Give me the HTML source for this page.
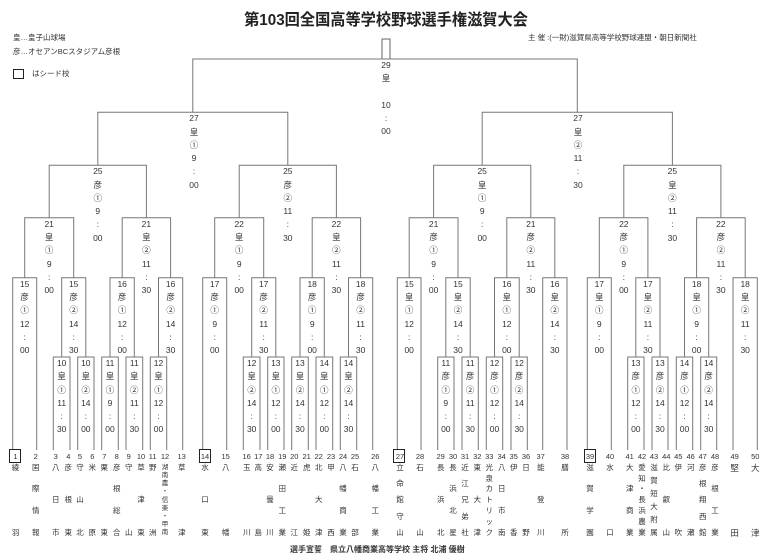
<!DOCTYPE html>
<html><head><meta charset="utf-8">
<style>
html,body{margin:0;padding:0;background:#fff}
body{width:768px;height:557px;position:relative;overflow:hidden;font-family:"Liberation Sans","Noto Sans CJK JP",sans-serif;color:#333}
svg{position:absolute;left:0;top:0}
.l{position:absolute;width:20px;margin-left:-10px;text-align:center;font-size:8.5px;line-height:13.3px;white-space:nowrap}
.n{position:absolute;top:452px;width:16px;margin-left:-8px;text-align:center;font-size:7.5px;line-height:9px}
.t{position:absolute;top:463.7px;height:73.3px;width:12px;margin-left:-6px;display:flex;flex-direction:column;justify-content:space-between;align-items:center;font-size:7.5px;line-height:8px}
.sb{position:absolute;top:449px;width:10px;height:12px;border:1.6px solid #222}
.s{position:absolute;font-size:7.5px;white-space:nowrap;line-height:10px}
</style></head><body>
<div style="position:absolute;left:0;width:772px;top:11px;text-align:center;font-size:16px;font-weight:bold;line-height:20px;transform:scaleX(0.95);color:#222">第103回全国高等学校野球選手権滋賀大会</div>
<div class="s" style="left:13px;top:33px">皇…皇子山球場</div>
<div class="s" style="left:13px;top:47px">彦…オセアンBCスタジアム彦根</div>
<div style="position:absolute;left:13px;top:69px;width:9px;height:8px;border:1.6px solid #222"></div>
<div class="s" style="left:32px;top:69px">はシード校</div>
<div class="s" style="left:528px;top:33px">主 催 :(一財)滋賀県高等学校野球連盟・朝日新聞社</div>
<div class="s" style="left:290px;top:545px;font-size:8px;font-weight:bold">選手宣誓　県立八幡商業高等学校 主将 北浦 優樹</div>

<svg width="768" height="557" viewBox="0 0 768 557">
<rect x="382" y="39" width="8" height="20" fill="none" stroke="#666" stroke-width="1"/>
<path fill="none" stroke="#777" stroke-width="1" d="
M53.3 450V357H70V450 M77.7 450V357H94V450 M101.7 450V357H118.3V450 M126 450V357H142.7V450 M150.3 450V357H166.7V450
M243.3 450V357H260V450 M267.7 450V357H284V450 M291.7 450V357H308.3V450 M316 450V357H332.7V450 M340.3 450V357H356.7V450
M437.7 450V357H454V450 M462 450V357H478.3V450 M486.3 450V357H502.7V450 M511 450V357H527.3V450
M627.7 450V357H644V450 M652 450V357H668V450 M676.3 450V357H692.7V450 M700.7 450V357H716.7V450
M12.7 450V277.7H36.7V450 M61.7 357V277.7H85.8V357 M110 357V277.7H134.3V357 M158.5 357V277.7H182.7V450
M202.7 450V277.7H226.7V450 M251.7 357V277.7H275.8V357 M300 357V277.7H324.3V357 M348.5 357V277.7H372.7V450
M397.3 450V277.7H421V450 M445.8 357V277.7H470.2V357 M494.5 357V277.7H519.2V357 M542.7 450V277.7H567V450
M587.3 450V277.7H611.3V450 M635.8 357V277.7H660V357 M684.5 357V277.7H708.7V357 M733 450V277.7H757.3V450
M24.7 277.7V217.7H73.7V277.7 M122.2 277.7V217.7H170.6V277.7 M214.7 277.7V217.7H263.7V277.7 M312.2 277.7V217.7H360.6V277.7
M409.2 277.7V217.7H458V277.7 M506.8 277.7V217.7H554.8V277.7 M599.3 277.7V217.7H647.9V277.7 M696.6 277.7V217.7H745.2V277.7
M49.2 217.7V165.3H146.4V217.7 M239.2 217.7V165.3H336.4V217.7 M433.6 217.7V165.3H530.8V217.7 M623.8 217.7V165.3H720.9V217.7
M97.8 165.3V112.3H287.8V165.3 M482.2 165.3V112.3H672.4V165.3
M192.8 112.3V59H577.3V112.3"/>
</svg>

<div class="l" style="left:386px;top:59px">29<br>皇<br>&nbsp;<br>10<br>:<br>00</div>
<div class="l" style="left:194px;top:112.3px">27<br>皇<br>①<br>9<br>:<br>00</div>
<div class="l" style="left:578px;top:112.3px">27<br>皇<br>②<br>11<br>:<br>30</div>
<div class="l" style="left:97.8px;top:165.3px">25<br>彦<br>①<br>9<br>:<br>00</div>
<div class="l" style="left:287.8px;top:165.3px">25<br>彦<br>②<br>11<br>:<br>30</div>
<div class="l" style="left:482.2px;top:165.3px">25<br>皇<br>①<br>9<br>:<br>00</div>
<div class="l" style="left:672.4px;top:165.3px">25<br>皇<br>②<br>11<br>:<br>30</div>

<div class="l" style="left:49.2px;top:217.7px">21<br>皇<br>①<br>9<br>:<br>00</div>
<div class="l" style="left:146.4px;top:217.7px">21<br>皇<br>②<br>11<br>:<br>30</div>
<div class="l" style="left:239.2px;top:217.7px">22<br>皇<br>①<br>9<br>:<br>00</div>
<div class="l" style="left:336.4px;top:217.7px">22<br>皇<br>②<br>11<br>:<br>30</div>
<div class="l" style="left:433.6px;top:217.7px">21<br>彦<br>①<br>9<br>:<br>00</div>
<div class="l" style="left:530.8px;top:217.7px">21<br>彦<br>②<br>11<br>:<br>30</div>
<div class="l" style="left:623.8px;top:217.7px">22<br>彦<br>①<br>9<br>:<br>00</div>
<div class="l" style="left:720.9px;top:217.7px">22<br>彦<br>②<br>11<br>:<br>30</div>

<div class="l" style="left:24.7px;top:277.7px">15<br>彦<br>①<br>12<br>:<br>00</div>
<div class="l" style="left:73.7px;top:277.7px">15<br>彦<br>②<br>14<br>:<br>30</div>
<div class="l" style="left:122.2px;top:277.7px">16<br>彦<br>①<br>12<br>:<br>00</div>
<div class="l" style="left:170.6px;top:277.7px">16<br>彦<br>②<br>14<br>:<br>30</div>
<div class="l" style="left:214.7px;top:277.7px">17<br>彦<br>①<br>9<br>:<br>00</div>
<div class="l" style="left:263.7px;top:277.7px">17<br>彦<br>②<br>11<br>:<br>30</div>
<div class="l" style="left:312.2px;top:277.7px">18<br>彦<br>①<br>9<br>:<br>00</div>
<div class="l" style="left:360.6px;top:277.7px">18<br>彦<br>②<br>11<br>:<br>30</div>
<div class="l" style="left:409.2px;top:277.7px">15<br>皇<br>①<br>12<br>:<br>00</div>
<div class="l" style="left:458px;top:277.7px">15<br>皇<br>②<br>14<br>:<br>30</div>
<div class="l" style="left:506.8px;top:277.7px">16<br>皇<br>①<br>12<br>:<br>00</div>
<div class="l" style="left:554.8px;top:277.7px">16<br>皇<br>②<br>14<br>:<br>30</div>
<div class="l" style="left:599.3px;top:277.7px">17<br>皇<br>①<br>9<br>:<br>00</div>
<div class="l" style="left:647.9px;top:277.7px">17<br>皇<br>②<br>11<br>:<br>30</div>
<div class="l" style="left:696.6px;top:277.7px">18<br>皇<br>①<br>9<br>:<br>00</div>
<div class="l" style="left:745.2px;top:277.7px">18<br>皇<br>②<br>11<br>:<br>30</div>

<div class="l" style="left:61.7px;top:357px">10<br>皇<br>①<br>11<br>:<br>30</div>
<div class="l" style="left:85.8px;top:357px">10<br>皇<br>②<br>14<br>:<br>00</div>
<div class="l" style="left:110px;top:357px">11<br>皇<br>①<br>9<br>:<br>00</div>
<div class="l" style="left:134.3px;top:357px">11<br>皇<br>②<br>11<br>:<br>30</div>
<div class="l" style="left:158.5px;top:357px">12<br>皇<br>①<br>12<br>:<br>00</div>
<div class="l" style="left:251.7px;top:357px">12<br>皇<br>②<br>14<br>:<br>30</div>
<div class="l" style="left:275.8px;top:357px">13<br>皇<br>①<br>12<br>:<br>00</div>
<div class="l" style="left:300px;top:357px">13<br>皇<br>②<br>14<br>:<br>30</div>
<div class="l" style="left:324.3px;top:357px">14<br>皇<br>①<br>12<br>:<br>00</div>
<div class="l" style="left:348.5px;top:357px">14<br>皇<br>②<br>14<br>:<br>30</div>
<div class="l" style="left:445.8px;top:357px">11<br>彦<br>①<br>9<br>:<br>00</div>
<div class="l" style="left:470.2px;top:357px">11<br>彦<br>②<br>11<br>:<br>30</div>
<div class="l" style="left:494.5px;top:357px">12<br>彦<br>①<br>12<br>:<br>00</div>
<div class="l" style="left:519.2px;top:357px">12<br>彦<br>②<br>14<br>:<br>30</div>
<div class="l" style="left:635.8px;top:357px">13<br>彦<br>①<br>12<br>:<br>00</div>
<div class="l" style="left:660px;top:357px">13<br>彦<br>②<br>14<br>:<br>30</div>
<div class="l" style="left:684.5px;top:357px">14<br>彦<br>①<br>12<br>:<br>00</div>
<div class="l" style="left:708.7px;top:357px">14<br>彦<br>②<br>14<br>:<br>30</div>

<div class="sb" style="left:9.3px"></div>
<div class="sb" style="left:199px"></div>
<div class="sb" style="left:393.3px"></div>
<div class="sb" style="left:583.7px"></div>

<div class="n" style="left:15.5px">1</div><div class="n" style="left:35.7px">2</div><div class="n" style="left:55.7px">3</div><div class="n" style="left:68.3px">4</div><div class="n" style="left:80px">5</div><div class="n" style="left:92.3px">6</div><div class="n" style="left:104.3px">7</div><div class="n" style="left:116.7px">8</div><div class="n" style="left:128.7px">9</div><div class="n" style="left:141px">10</div><div class="n" style="left:152.7px">11</div><div class="n" style="left:165px">12</div><div class="n" style="left:181.7px">13</div>
<div class="n" style="left:205px">14</div><div class="n" style="left:225.7px">15</div><div class="n" style="left:246.7px">16</div><div class="n" style="left:258.3px">17</div><div class="n" style="left:270px">18</div><div class="n" style="left:282.3px">19</div><div class="n" style="left:294.3px">20</div><div class="n" style="left:306.7px">21</div><div class="n" style="left:318.7px">22</div><div class="n" style="left:331px">23</div><div class="n" style="left:343px">24</div><div class="n" style="left:355px">25</div><div class="n" style="left:375.3px">26</div>
<div class="n" style="left:400px">27</div><div class="n" style="left:420px">28</div><div class="n" style="left:440.7px">29</div><div class="n" style="left:453px">30</div><div class="n" style="left:465px">31</div><div class="n" style="left:477.3px">32</div><div class="n" style="left:489.3px">33</div><div class="n" style="left:501.7px">34</div><div class="n" style="left:513.7px">35</div><div class="n" style="left:526px">36</div><div class="n" style="left:540.7px">37</div><div class="n" style="left:565px">38</div>
<div class="n" style="left:590px">39</div><div class="n" style="left:610px">40</div><div class="n" style="left:629.7px">41</div><div class="n" style="left:642px">42</div><div class="n" style="left:654px">43</div><div class="n" style="left:666.3px">44</div><div class="n" style="left:678.3px">45</div><div class="n" style="left:690.7px">46</div><div class="n" style="left:702.7px">47</div><div class="n" style="left:715px">48</div><div class="n" style="left:734.7px">49</div><div class="n" style="left:755.3px">50</div>

<div class="t" style="left:15.5px"><span>綾</span><span>羽</span></div>
<div class="t" style="left:35.7px"><span>国</span><span>際</span><span>情</span><span>報</span></div>
<div class="t" style="left:55.7px"><span>八</span><span>日</span><span>市</span></div>
<div class="t" style="left:68.3px"><span>彦</span><span>根</span><span>東</span></div>
<div class="t" style="left:80px"><span>守</span><span>山</span><span>北</span></div>
<div class="t" style="left:92.3px"><span>米</span><span>原</span></div>
<div class="t" style="left:104.3px"><span>栗</span><span>東</span></div>
<div class="t" style="left:116.7px"><span>彦</span><span>根</span><span>総</span><span>合</span></div>
<div class="t" style="left:128.7px"><span>守</span><span>山</span></div>
<div class="t" style="left:141px"><span>草</span><span>津</span><span>東</span></div>
<div class="t" style="left:152.7px"><span>野</span><span>洲</span></div>
<div class="t" style="left:165px;font-size:6.5px;line-height:7.5px"><span>湖</span><span>南</span><span>農</span><span>・</span><span>信</span><span>楽</span><span>・</span><span>甲</span><span>南</span></div>
<div class="t" style="left:181.7px"><span>草</span><span>津</span></div>
<div class="t" style="left:205px"><span>水</span><span>口</span><span>東</span></div>
<div class="t" style="left:225.7px"><span>八</span><span>幡</span></div>
<div class="t" style="left:246.7px"><span>玉</span><span>川</span></div>
<div class="t" style="left:258.3px"><span>高</span><span>島</span></div>
<div class="t" style="left:270px"><span>安</span><span>曇</span><span>川</span></div>
<div class="t" style="left:282.3px"><span>瀬</span><span>田</span><span>工</span><span>業</span></div>
<div class="t" style="left:294.3px"><span>近</span><span>江</span></div>
<div class="t" style="left:306.7px"><span>虎</span><span>姫</span></div>
<div class="t" style="left:318.7px"><span>北</span><span>大</span><span>津</span></div>
<div class="t" style="left:331px"><span>甲</span><span>西</span></div>
<div class="t" style="left:343px"><span>八</span><span>幡</span><span>商</span><span>業</span></div>
<div class="t" style="left:355px"><span>石</span><span>部</span></div>
<div class="t" style="left:375.3px"><span>八</span><span>幡</span><span>工</span><span>業</span></div>
<div class="t" style="left:400px"><span>立</span><span>命</span><span>館</span><span>守</span><span>山</span></div>
<div class="t" style="left:420px"><span>石</span><span>山</span></div>
<div class="t" style="left:440.7px"><span>長</span><span>浜</span><span>北</span></div>
<div class="t" style="left:453px"><span>長</span><span>浜</span><span>北</span><span>星</span></div>
<div class="t" style="left:465px"><span>近</span><span>江</span><span>兄</span><span>弟</span><span>社</span></div>
<div class="t" style="left:477.3px"><span>東</span><span>大</span><span>津</span></div>
<div class="t" style="left:489.3px"><span>光</span><span>泉</span><span>カ</span><span>ト</span><span>リ</span><span>ッ</span><span>ク</span></div>
<div class="t" style="left:501.7px"><span>八</span><span>日</span><span>市</span><span>南</span></div>
<div class="t" style="left:513.7px"><span>伊</span><span>香</span></div>
<div class="t" style="left:526px"><span>日</span><span>野</span></div>
<div class="t" style="left:540.7px"><span>能</span><span>登</span><span>川</span></div>
<div class="t" style="left:565px"><span>膳</span><span>所</span></div>
<div class="t" style="left:590px"><span>滋</span><span>賀</span><span>学</span><span>園</span></div>
<div class="t" style="left:610px"><span>水</span><span>口</span></div>
<div class="t" style="left:629.7px"><span>大</span><span>津</span><span>商</span><span>業</span></div>
<div class="t" style="left:642px"><span>愛</span><span>知</span><span>・</span><span>長</span><span>浜</span><span>農</span><span>業</span></div>
<div class="t" style="left:654px"><span>滋</span><span>賀</span><span>短</span><span>大</span><span>附</span><span>属</span></div>
<div class="t" style="left:666.3px"><span>比</span><span>叡</span><span>山</span></div>
<div class="t" style="left:678.3px"><span>伊</span><span>吹</span></div>
<div class="t" style="left:690.7px"><span>河</span><span>瀬</span></div>
<div class="t" style="left:702.7px"><span>彦</span><span>根</span><span>翔</span><span>西</span><span>館</span></div>
<div class="t" style="left:715px"><span>彦</span><span>根</span><span>工</span><span>業</span></div>
<div class="t" style="left:734.7px;font-size:8.5px"><span>堅</span><span>田</span></div>
<div class="t" style="left:755.3px;font-size:8.5px"><span>大</span><span>津</span></div>
</body></html>
